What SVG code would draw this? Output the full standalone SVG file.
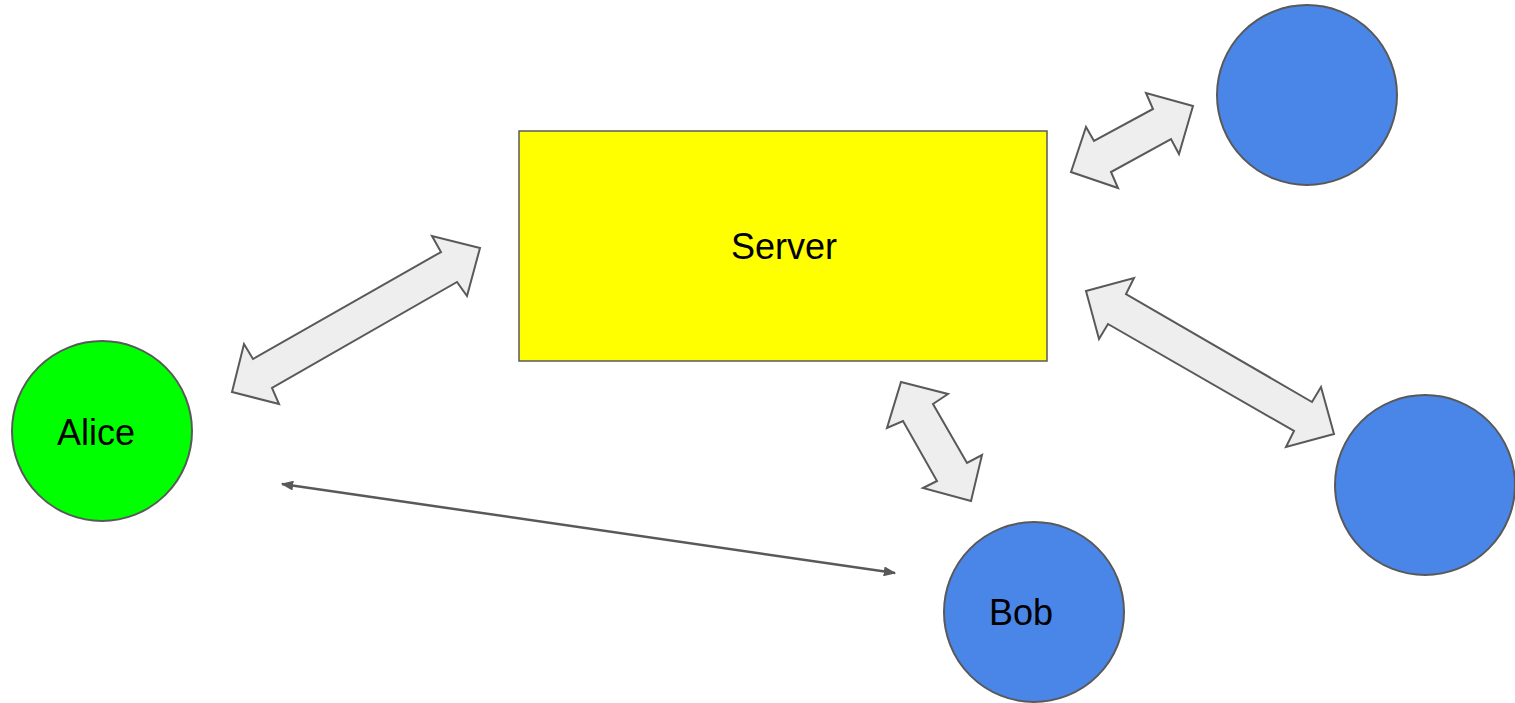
<svg xmlns="http://www.w3.org/2000/svg" width="1515" height="703" viewBox="0 0 1515 703">
  <style>
    .node { stroke: #595959; stroke-width: 2; }
    .green { fill: #00ff00; }
    .blue { fill: #4a86e8; }
    .server { fill: #ffff00; stroke: #595959; stroke-width: 1.5; }
    .block { fill: #eeeeee; stroke: #595959; stroke-width: 2; stroke-linejoin: miter; }
    .label { font-family: "Liberation Sans", Arial, sans-serif; font-size: 36px; fill: #000000; text-anchor: middle; }
    .link { stroke: #595959; stroke-width: 2.5; fill: none; }
  </style>
  <defs>
    <marker id="tip" viewBox="0 0 10 8" refX="9" refY="4" markerWidth="5" markerHeight="4" orient="auto-start-reverse" markerUnits="strokeWidth">
      <path d="M0,0 L10,4 L0,8 Z" fill="#595959"/>
    </marker>
  </defs>
  <rect width="1515" height="703" fill="#ffffff"/>

  <g id="connectors">
    <!-- double-headed block arrows -->
    <polygon class="block" points="480,248 432,236 441,252 253,359 244,344 232,392 279,404 272,388 457,282 467,296"/>
    <polygon class="block" points="1193,106 1146,93 1153,109 1094,141 1086,127 1071,172 1118,188 1111,172 1171,139 1179,154"/>
    <polygon class="block" points="1086,291 1134,278 1126,294 1312,402 1321,387 1334,434 1286,447 1294,431 1108,324 1099,339"/>
    <polygon class="block" points="901,382 948,394 933,404 967,463 982,455 971,501 923,488 937,481 903,421 887,428"/>
    <!-- thin two-way link Alice – Bob -->
    <line class="link" x1="282" y1="484" x2="895" y2="573" marker-start="url(#tip)" marker-end="url(#tip)"/>
  </g>

  <g id="server">
    <rect class="server" x="519" y="131" width="528" height="230"/>
    <text class="label" x="784" y="259">Server</text>
  </g>

  <g id="alice">
    <circle class="node green" cx="102" cy="431" r="90"/>
    <text class="label" x="96" y="445">Alice</text>
  </g>

  <g id="bob">
    <circle class="node blue" cx="1034" cy="612" r="90"/>
    <text class="label" x="1021" y="625">Bob</text>
  </g>

  <g id="peer-top">
    <circle class="node blue" cx="1307" cy="95" r="90"/>
  </g>

  <g id="peer-right">
    <circle class="node blue" cx="1425" cy="485" r="90"/>
  </g>
</svg>
